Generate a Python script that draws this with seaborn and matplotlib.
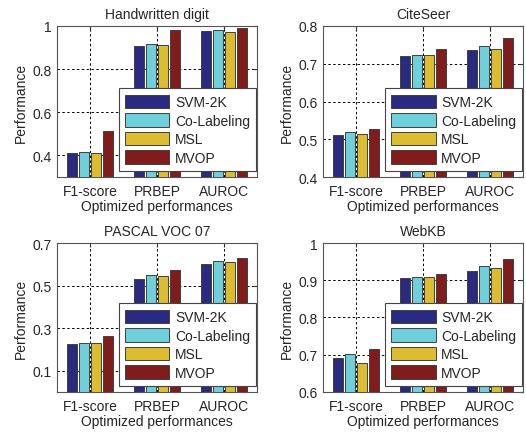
import matplotlib
matplotlib.use("Agg")
import matplotlib.pyplot as plt
import seaborn as sns
import pandas as pd

sns.set_style("white")
plt.rcParams['font.family'] = ['Liberation Sans', 'DejaVu Sans']

metrics = ["F1-score", "PRBEP", "AUROC"]
methods = ["SVM-2K", "Co-Labeling", "MSL", "MVOP"]
colors = ["#2a2a80", "#6fd0dc", "#dcbc30", "#801c1c"]

titles = ["Handwritten digit", "CiteSeer", "PASCAL VOC 07", "WebKB"]

# values[method] = [F1-score, PRBEP, AUROC]
handwritten = {
    "SVM-2K": [0.411, 0.905, 0.977],
    "Co-Labeling": [0.417, 0.916, 0.982],
    "MSL": [0.410, 0.910, 0.972],
    "MVOP": [0.512, 0.981, 0.993],
}
citeseer = {
    "SVM-2K": [0.512, 0.720, 0.737],
    "Co-Labeling": [0.519, 0.722, 0.746],
    "MSL": [0.514, 0.722, 0.740],
    "MVOP": [0.528, 0.740, 0.769],
}
pascal = {
    "SVM-2K": [0.226, 0.529, 0.600],
    "Co-Labeling": [0.230, 0.550, 0.615],
    "MSL": [0.230, 0.543, 0.610],
    "MVOP": [0.265, 0.575, 0.630],
}
webkb = {
    "SVM-2K": [0.692, 0.905, 0.926],
    "Co-Labeling": [0.703, 0.910, 0.938],
    "MSL": [0.678, 0.908, 0.932],
    "MVOP": [0.715, 0.918, 0.956],
}
datasets = [handwritten, citeseer, pascal, webkb]

ylims = [(0.3, 1.0), (0.4, 0.8), (0.0, 0.7), (0.6, 1.0)]
yticks = [[0.4, 0.6, 0.8, 1.0], [0.4, 0.5, 0.6, 0.7, 0.8],
          [0.1, 0.3, 0.5, 0.7], [0.6, 0.7, 0.8, 0.9, 1.0]]
ytlabels = [["0.4", "0.6", "0.8", "1"], ["0.4", "0.5", "0.6", "0.7", "0.8"],
            ["0.1", "0.3", "0.5", "0.7"], ["0.6", "0.7", "0.8", "0.9", "1"]]

fig = plt.figure(figsize=(5.26, 4.39), dpi=100)
positions = [
    [0.108, 0.5945, 0.381, 0.344],
    [0.614, 0.5945, 0.381, 0.344],
    [0.108, 0.105, 0.381, 0.339],
    [0.614, 0.105, 0.381, 0.339],
]
fs = 10

for i, data in enumerate(datasets):
    ax = fig.add_axes(positions[i])
    rows = []
    for m in methods:
        for k, met in enumerate(metrics):
            rows.append({"metric": met, "method": m, "value": data[m][k]})
    df = pd.DataFrame(rows)
    sns.barplot(data=df, x="metric", y="value", hue="method", order=metrics,
                hue_order=methods, palette=colors, saturation=1, width=0.72, gap=0.17,
                edgecolor="#404040", linewidth=0.7, ax=ax, zorder=3)
    ax.set_xlim(-0.5, 2.5)
    ax.set_ylim(*ylims[i])
    ax.set_yticks(yticks[i])
    ax.set_yticklabels(ytlabels[i], fontsize=fs)
    ax.tick_params(axis='x', labelsize=fs, pad=5)
    ax.tick_params(axis='y', pad=4)
    ax.tick_params(direction='in', length=3, top=True, right=True, color="#333333")
    ax.set_xlabel("Optimized performances", fontsize=fs, labelpad=1)
    ax.set_ylabel("Performance", fontsize=fs, labelpad=3)
    ax.set_title(titles[i], fontsize=fs, pad=6)
    ax.grid(True, color="black", linestyle=(0, (2.5, 2.5)), linewidth=0.7, zorder=0)
    ax.set_axisbelow(True)
    for s in ax.spines.values():
        s.set_color("#555555")
        s.set_linewidth(0.8)
    leg = ax.legend(loc="lower right", bbox_to_anchor=(0.995, 0.04), fontsize=fs,
                    frameon=True, fancybox=False, framealpha=1, handlelength=3.2,
                    handleheight=1.1, borderpad=0.45, labelspacing=0.3,
                    handletextpad=0.4, borderaxespad=0)
    leg.get_frame().set_edgecolor("#444444")
    leg.get_frame().set_linewidth(0.8)
    leg.set_zorder(5)

fig.savefig("out.png", dpi=100)
